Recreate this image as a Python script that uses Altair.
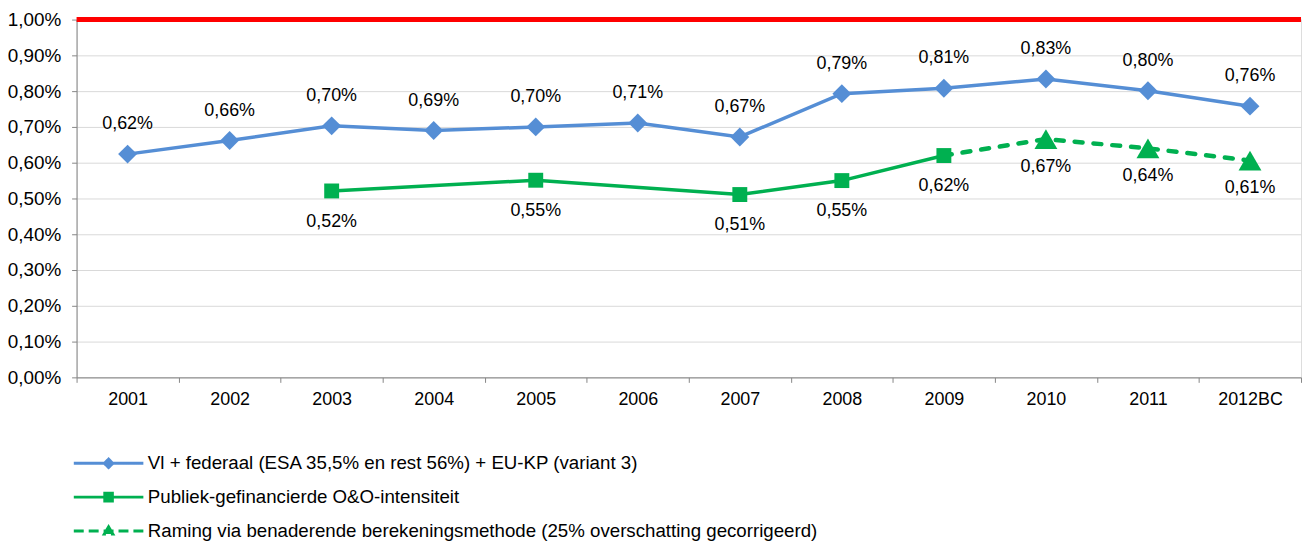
import altair as alt
import pandas as pd

years = ["2001", "2002", "2003", "2004", "2005", "2006", "2007", "2008",
         "2009", "2010", "2011", "2012BC"]
blue_vals = [0.624, 0.662, 0.703, 0.690, 0.700, 0.711, 0.672, 0.793,
             0.808, 0.834, 0.801, 0.758]
green_years = ["2003", "2005", "2007", "2008", "2009"]
green_vals = [0.521, 0.551, 0.511, 0.550, 0.620]
dash_years = ["2009", "2010", "2011", "2012BC"]
dash_vals = [0.620, 0.666, 0.640, 0.606]
dash_label_years = ["2010", "2011", "2012BC"]
target = 1.0
series_names = [
    "Vl + federaal (ESA 35,5% en rest 56%) + EU-KP (variant 3)",
    "Publiek-gefinancierde O&O-intensiteit",
    "Raming via benaderende berekeningsmethode (25% overschatting gecorrigeerd)",
]
y_ticks = [0.0, 0.1, 0.2, 0.3, 0.4, 0.5, 0.6, 0.7, 0.8, 0.9, 1.0]

BLUE = "#558ED5"
GREEN = "#00B050"
RED = "#FF0000"
FONT = "Liberation Sans"

blue_df = pd.DataFrame({"year": years, "v": blue_vals})
green_df = pd.DataFrame({"year": green_years, "v": green_vals})
dash_df = pd.DataFrame({"year": dash_years, "v": dash_vals})
dash_lbl_df = dash_df[dash_df["year"].isin(dash_label_years)]
legend_df = pd.DataFrame({"s": series_names})

X = alt.X(
    "year:O",
    scale=alt.Scale(type="band", domain=years, paddingInner=0, paddingOuter=0),
    axis=alt.Axis(
        title=None, labelAngle=0, tickBand="extent", grid=False,
        domainColor="#868686", tickColor="#868686", tickSize=5,
        labelFontSize=18, labelColor="#000000", labelPadding=8,
        labelFont=FONT, labelOverlap=False,
    ),
)
Y = alt.Y(
    "v:Q",
    scale=alt.Scale(domain=[0, 1], nice=False, zero=True),
    axis=alt.Axis(
        title=None, values=y_ticks, tickCount=11,
        labelExpr="replace(format(datum.value, '.2f'), '.', ',') + '%'",
        grid=True, gridColor="#D9D9D9", gridWidth=1,
        domainColor="#868686", tickColor="#868686", tickSize=5,
        labelFontSize=19, labelColor="#000000", labelPadding=11,
        labelFont=FONT, labelOverlap=False, labelBound=False,
    ),
)
LBL = "replace(format(datum.v, '.2f'), '.', ',') + '%'"
FS_LBL = 18

red = alt.Chart(pd.DataFrame({"v": [target]})).mark_rule(
    color=RED, strokeWidth=5
).encode(y=Y)

blue_line = alt.Chart(blue_df).mark_line(color=BLUE, strokeWidth=3.5).encode(x=X, y=Y)
blue_pts = alt.Chart(blue_df).mark_point(
    shape="diamond", filled=True, size=361, color=BLUE, opacity=1
).encode(x=X, y=Y)
blue_txt = alt.Chart(blue_df).transform_calculate(lbl=LBL).mark_text(
    dy=-30, fontSize=FS_LBL, font=FONT, color="#000000"
).encode(x=X, y=Y, text="lbl:N")

green_line = alt.Chart(green_df).mark_line(color=GREEN, strokeWidth=3.5).encode(x=X, y=Y)
green_pts = alt.Chart(green_df).mark_point(
    shape="square", filled=True, size=225, color=GREEN, opacity=1
).encode(x=X, y=Y)
green_txt = alt.Chart(green_df).transform_calculate(lbl=LBL).mark_text(
    dy=31, fontSize=FS_LBL, font=FONT, color="#000000"
).encode(x=X, y=Y, text="lbl:N")

dash_line = alt.Chart(dash_df).mark_line(
    color=GREEN, strokeWidth=4.5, strokeDash=[8, 11], strokeCap="round"
).encode(x=X, y=Y)
dash_pts = alt.Chart(dash_lbl_df).mark_point(
    shape="triangle-up", filled=True, size=530, color=GREEN, opacity=1
).encode(x=X, y=Y)
dash_txt = alt.Chart(dash_lbl_df).transform_calculate(lbl=LBL).mark_text(
    dy=28, fontSize=FS_LBL, font=FONT, color="#000000"
).encode(x=X, y=Y, text="lbl:N")

# legend (built from scales with explicit domains; no marks drawn)
line_part = "M-3.5,0H3.5"
paths = [
    line_part + "M0,-0.42L0.42,0L0,0.42L-0.42,0Z",
    line_part + "M-0.38,-0.38H0.38V0.38H-0.38Z",
    line_part + "M0,-0.4L0.42,0.3L-0.42,0.3Z",
]
leg = alt.Legend(
    title=None, orient="none", legendX=20.7, legendY=435, direction="vertical",
    labelFontSize=18.8, labelFont=FONT, labelColor="#000000", labelOffset=28,
    rowPadding=12, symbolStrokeWidth=3, symbolSize=400, padding=0,
    labelLimit=1000,
)
legend_layer = alt.Chart(legend_df).transform_filter("false").mark_point(
    filled=True, size=400, strokeWidth=3, opacity=1
).encode(
    fill=alt.Fill("s:N", scale=alt.Scale(domain=series_names, range=[BLUE, GREEN, GREEN]), legend=leg),
    stroke=alt.Stroke("s:N", scale=alt.Scale(domain=series_names, range=[BLUE, GREEN, GREEN]), legend=leg),
    shape=alt.Shape("s:N", scale=alt.Scale(domain=series_names, range=paths), legend=leg),
    strokeDash=alt.StrokeDash("s:N", scale=alt.Scale(domain=series_names, range=[[1, 0], [1, 0], [10, 5]]), legend=leg),
)

chart = alt.layer(
    blue_line, green_line, dash_line, blue_pts, green_pts, dash_pts,
    blue_txt, green_txt, dash_txt, red, legend_layer,
).properties(
    width=1232, height=360,
    autosize=alt.AutoSizeParams(type="none"),
    padding={"left": 69, "top": 10, "right": 2, "bottom": 165},
).configure_view(stroke=None).configure(font=FONT)

chart.save("out.html", embed_options={"renderer": "svg", "actions": False})
